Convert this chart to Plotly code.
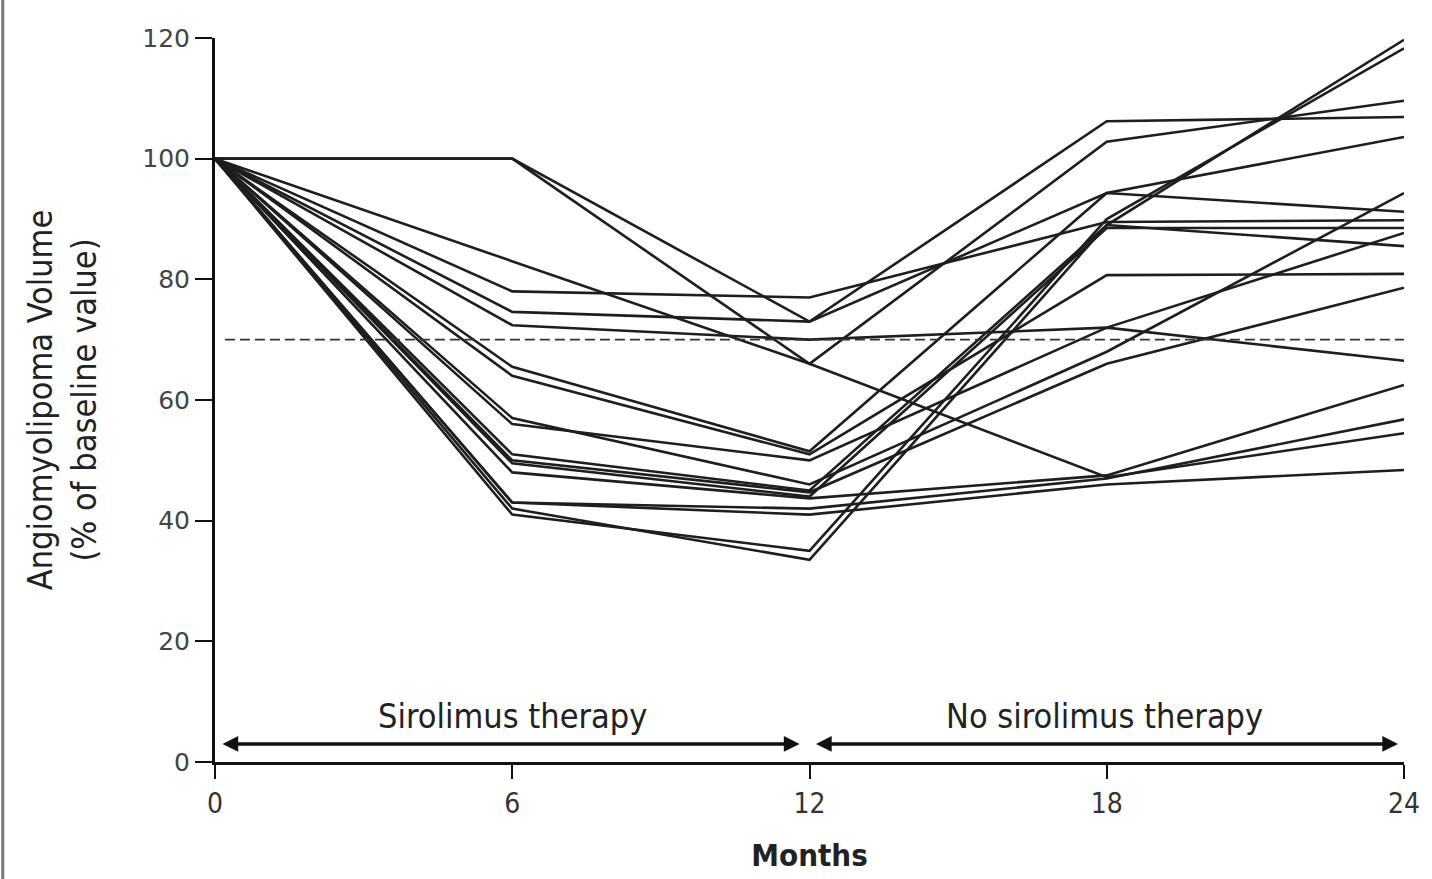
import plotly.graph_objects as go

months = [0, 6, 12, 18, 24]

# Tumour volume (% of baseline) per patient at each visit
patients = [
    [100, 100, 73, 106.2, 106.9],
    [100, 100, 66, 102.8, 109.6],
    [100, 83, 66, 47.2, 54.5],
    [100, 78, 77, 89.5, 89.8],
    [100, 74.6, 73, 94.3, 91.2],
    [100, 72.4, 70, 72, 66.5],
    [100, 65.5, 51.5, 94.3, 103.6],
    [100, 64, 51, 80.7, 80.9],
    [100, 57, 46, 68, 94.3],
    [100, 56, 50, 72, 87.7],
    [100, 51, 45, 89, 85.5],
    [100, 50, 44.7, 66, 78.6],
    [100, 49.5, 44, 88.5, 88.5],
    [100, 48, 43.7, 47.5, 62.5],
    [100, 43, 42, 47, 56.8],
    [100, 42, 33.5, 89, 119.7],
    [100, 41, 35, 90, 118.3],
    [100, 43, 41, 46, 48.4],
]

threshold = 70
x_ticks = [0, 6, 12, 18, 24]
y_ticks = [0, 20, 40, 60, 80, 100, 120]

COND = "DejaVu Sans Condensed, Liberation Sans Narrow, Arial Narrow, Liberation Sans"

fig = go.Figure()
for vals in patients:
    fig.add_trace(go.Scatter(x=months, y=vals, mode="lines",
                             line=dict(color="#1e1e1e", width=2.6),
                             showlegend=False, hoverinfo="skip"))

fig.add_trace(go.Scatter(x=[0.2, 24], y=[threshold, threshold], mode="lines",
                         line=dict(color="#333333", width=1.6, dash="10px,5px"),
                         showlegend=False, hoverinfo="skip"))

# therapy period arrows
for x0, x1 in [(0.12, 11.8), (12.1, 23.88)]:
    fig.add_annotation(x=x1, y=3, ax=x0, ay=3, xref="x", yref="y", axref="x", ayref="y",
                       text="", showarrow=True, arrowhead=2, arrowside="end+start",
                       arrowwidth=3.5, arrowsize=0.9, arrowcolor="#111111")

fig.add_annotation(x=6.0, y=7.6, xref="x", yref="y", text="Sirolimus therapy",
                   showarrow=False, font=dict(family=COND, size=34, color="#222"))
fig.add_annotation(x=17.95, y=7.6, xref="x", yref="y", text="No sirolimus therapy",
                   showarrow=False, font=dict(family=COND, size=34, color="#222"))

# left border line of the original figure panel
fig.add_shape(type="line", xref="paper", yref="paper", x0=-0.1785, x1=-0.1785, y0=-0.17, y1=1.06,
              line=dict(color="#777777", width=3))

fig.update_layout(
    width=1432, height=879,
    margin=dict(l=215, r=28, t=38, b=117),
    plot_bgcolor="white", paper_bgcolor="white",
    font=dict(family=COND, color="#222"),
)
fig.update_xaxes(range=[0, 24], tickvals=x_ticks, ticktext=[str(t) for t in x_ticks],
                 showgrid=False, zeroline=False, showline=True, linecolor="#111", linewidth=3,
                 ticks="outside", ticklen=14, tickwidth=2, tickcolor="#111",
                 tickfont=dict(size=28, color="#333", family=COND),
                 title=dict(text="<b>Months</b>", font=dict(size=31, color="#222", family=COND), standoff=26))
fig.update_yaxes(range=[0, 120], tickvals=y_ticks, ticktext=[str(t) for t in y_ticks],
                 showgrid=False, zeroline=False, showline=True, linecolor="#111", linewidth=3,
                 ticks="outside", ticklen=17, tickwidth=2, tickcolor="#111",
                 tickfont=dict(size=25, color="#444", family="DejaVu Sans"),
                 title=dict(text="Angiomyolipoma Volume<br>(% of baseline value)",
                            font=dict(size=34, color="#222", family=COND), standoff=36))

fig.write_html("out.html")
